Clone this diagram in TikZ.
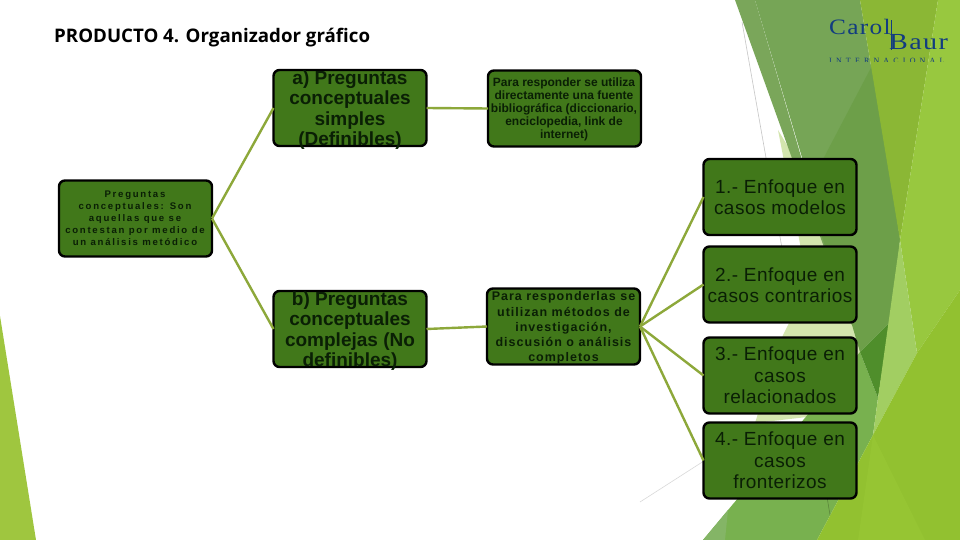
\documentclass[tikz,border=0pt]{standalone}
\usepackage{fontspec}
\setmainfont{Liberation Sans}
\newfontfamily\titlefont{Open Sans}
\newfontfamily\logofont[FakeStretch=1.15,LetterSpace=6]{Liberation Serif}
\newfontfamily\logobfont[FakeStretch=1.22,LetterSpace=6]{Liberation Serif}
\newfontfamily\logosmall[LetterSpace=52]{Liberation Serif}
\newfontfamily\rootfont[LetterSpace=18]{Liberation Sans}
\newfontfamily\widefont[LetterSpace=2.5]{Liberation Sans}
\newfontfamily\midfont[LetterSpace=8]{Liberation Sans}
\definecolor{boxgreen}{HTML}{41781A}
\definecolor{ink}{HTML}{0A1F05}
\definecolor{linkgreen}{HTML}{8DA83A}
\definecolor{navy}{HTML}{123C80}
\definecolor{mutedA}{HTML}{7AA65A}
\definecolor{mutedB}{HTML}{76A556}
\definecolor{mutedC}{HTML}{6D9F49}
\definecolor{darkwedge}{HTML}{4F8E2B}
\definecolor{midgreen}{HTML}{78B14F}
\definecolor{midpale}{HTML}{84B566}
\definecolor{pale}{HTML}{D3E5AE}
\definecolor{palepanel}{HTML}{A2CE62}
\definecolor{olive}{HTML}{8BB735}
\definecolor{bright}{HTML}{98C83F}
\definecolor{lime}{HTML}{92C130}
\definecolor{limeB}{HTML}{96C533}
\definecolor{leftwedge}{HTML}{9FC63F}
\tikzset{
  card/.style={draw=black,fill=boxgreen,line width=2.4pt,rounded corners=6pt,minimum width=153pt,minimum height=76pt,inner sep=0pt,outer sep=0pt},
  cardtext/.style={text=ink,align=center,inner sep=0pt},
  headtext/.style={cardtext,font=\fontsize{19}{20.6}\selectfont\bfseries},
  smalltext/.style={cardtext,font=\fontsize{12}{13}\selectfont\bfseries},
  midtext/.style={cardtext,font=\fontsize{12.5}{15.2}\selectfont\midfont\bfseries},
  steptext/.style={cardtext,font=\fontsize{19}{21.3}\selectfont\widefont},
  roottext/.style={cardtext,font=\fontsize{9.6}{12}\selectfont\rootfont\bfseries},
  link/.style={draw=linkgreen,line width=2.4pt},
  hair/.style={draw=#1,line width=0.6pt}
}
\begin{document}
\begin{tikzpicture}[x=1pt,y=-1pt]
\useasboundingbox (0,0) rectangle (960,540);
\fill[white] (0,0) rectangle (960,540);
% backdrop
\fill[leftwedge] (0,316) -- (36,540) -- (0,540) -- cycle;
\draw[hair=gray!45] (742,22) -- (800,350);
\draw[hair=gray!30] (640,502) -- (760,425);
\fill[pale] (778,130) -- (808,285) -- (783,335) -- (755,423) -- (807,417) -- (862,352) -- (790,150) -- cycle;
\fill[mutedA] (735,0) -- (755,0) -- (805,170) -- (852,325) -- cycle;
\fill[mutedB] (755,0) -- (860,0) -- (900,240) -- (852,325) -- cycle;
\fill[mutedC] (875,60) -- (820,165) -- (822,237) -- (852,325) -- (860,352) -- (890,322) -- (897,270) -- (900,240) -- cycle;
\fill[midgreen] (703,540) -- (860,352) -- (878,398) -- (873,435) -- (817,540) -- cycle;
\fill[midpale] (703,540) -- (728,510) -- (725,540) -- cycle;
\fill[darkwedge] (860,352) -- (890,322) -- (878,398) -- cycle;
\fill[olive] (860,0) -- (938,0) -- (900,240) -- cycle;
\fill[bright] (938,0) -- (960,0) -- (960,290) -- (917,353) -- (900,240) -- cycle;
\fill[palepanel] (900,240) -- (917,353) -- (873,435) -- (878,398) -- cycle;
\fill[lime] (960,290) -- (960,540) -- (817,540) -- (873,435) -- (917,353) -- cycle;
\fill[limeB] (873,435) -- (925,540) -- (858,540) -- cycle;
\draw[hair=midgreen!75!black] (827,497) -- (830,515);
% logo
\node[anchor=base west,inner sep=0pt,text=navy,font=\fontsize{22}{22}\selectfont\logofont] (carol) at (829,35) {Carol};
\node[anchor=base west,inner sep=0pt,text=navy,font=\fontsize{23}{23}\selectfont\logobfont] (baur) at (889,50) {Baur};
\fill[navy] (890.8,20) rectangle (892.2,50);
\begin{scope}
\clip (820,54) rectangle (955,62);
\node[anchor=base west,inner sep=0pt,text=navy,font=\fontsize{8}{8}\selectfont\logosmall] (inter) at (829,63.5) {INTERNACIONAL};
\end{scope}
% title
\node[anchor=base west,inner sep=0pt,text=black,font=\fontsize{18.7}{20}\selectfont\titlefont\bfseries] (title) at (54,42.5) {PRODUCTO 4. Organizador gráfico};
% boxes
\node[card] (a) at (350,108) {};
\node[card] (b) at (564.5,108.5) {};
\node[card] (c) at (780,197) {};
\node[card] (d) at (135.5,218.5) {};
\node[card] (e) at (350,329) {};
\node[card] (f) at (563.5,326.5) {};
\node[card] (g) at (780,284.5) {};
\node[card] (h) at (780,375.5) {};
\node[card] (i) at (780,460.5) {};
% texts
\node[headtext] (ta) at (350,110) {a) Preguntas\\conceptuales\\simples\\(Definibles)};
\node[smalltext] (tb) at (564,109) {Para responder se utiliza\\directamente una fuente\\bibliográfica (diccionario,\\enciclopedia, link de\\internet)};
\node[steptext] (tc) at (780,197) {1.- Enfoque en\\casos modelos};
\node[roottext] (td) at (135,218) {Preguntas\\conceptuales:  Son\\aquellas que se\\contestan por medio de\\un análisis metódico};
\node[headtext] (te) at (350,331) {b) Preguntas\\conceptuales\\complejas (No\\definibles)};
\node[midtext] (tf) at (563.5,328) {Para responderlas se\\utilizan métodos de\\investigación,\\discusión o análisis\\completos};
\node[steptext] (tg) at (780,285) {2.- Enfoque en\\casos contrarios};
\node[steptext] (th) at (780,375.5) {3.- Enfoque en\\casos\\relacionados};
\node[steptext] (ti) at (780,460.5) {4.- Enfoque en\\casos\\fronterizos};
% connectors
\draw[link] (d.east) -- (a.west);
\draw[link] (d.east) -- (e.west);
\draw[link] (a.east) -- (b.west);
\draw[link] (e.east) -- (f.west);
\draw[link] (f.east) -- (c.west);
\draw[link] (f.east) -- (g.west);
\draw[link] (f.east) -- (h.west);
\draw[link] (f.east) -- (i.west);
\end{tikzpicture}
\end{document}
